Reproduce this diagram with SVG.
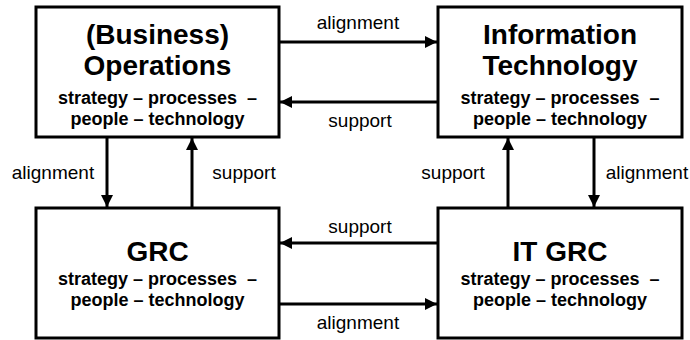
<svg xmlns="http://www.w3.org/2000/svg" width="690" height="340" viewBox="0 0 690 340">
<style>
.box{fill:#fff;stroke:#000;stroke-width:3}
.t{font-family:"Liberation Sans",Arial,sans-serif;font-weight:bold;font-size:28px;text-anchor:middle;fill:#000}
.s{font-family:"Liberation Sans",Arial,sans-serif;font-weight:bold;font-size:18px;text-anchor:middle;fill:#000}
.l{font-family:"Liberation Sans",Arial,sans-serif;font-size:19px;text-anchor:middle;fill:#000}
.c{stroke:#000;stroke-width:3;fill:none}
</style>
<defs>
<marker id="ah" viewBox="0 0 10 10" refX="10" refY="5" markerWidth="4" markerHeight="4" markerUnits="strokeWidth" orient="auto">
<path d="M0,0 L10,5 L0,10 Z" fill="#000"/>
</marker>
</defs>
<rect width="690" height="340" fill="#fff"/>
<g id="connectors">
<line class="c" x1="280" y1="42" x2="437" y2="42" marker-end="url(#ah)"/>
<line class="c" x1="437" y1="102" x2="280" y2="102" marker-end="url(#ah)"/>
<line class="c" x1="437" y1="243" x2="280" y2="243" marker-end="url(#ah)"/>
<line class="c" x1="280" y1="304" x2="437" y2="304" marker-end="url(#ah)"/>
<line class="c" x1="107" y1="138" x2="107" y2="207" marker-end="url(#ah)"/>
<line class="c" x1="192" y1="207" x2="192" y2="138" marker-end="url(#ah)"/>
<line class="c" x1="508" y1="207" x2="508" y2="138" marker-end="url(#ah)"/>
<line class="c" x1="594" y1="138" x2="594" y2="207" marker-end="url(#ah)"/>
<text class="l" x="358" y="29">alignment</text>
<text class="l" x="360" y="127">support</text>
<text class="l" x="360" y="233">support</text>
<text class="l" x="358" y="329">alignment</text>
<text class="l" x="53" y="179">alignment</text>
<text class="l" x="244" y="179">support</text>
<text class="l" x="453" y="179">support</text>
<text class="l" x="647" y="179">alignment</text>
</g>
<g id="ops">
<rect class="box" x="36" y="7" width="243" height="130"/>
<text class="t" x="157.5" y="44">(Business)</text>
<text class="t" x="157.5" y="75">Operations</text>
<text class="s" x="157.5" y="104">strategy – processes&#160; –</text>
<text class="s" x="157.5" y="125">people – technology</text>
</g>
<g id="it">
<rect class="box" x="438" y="7" width="244" height="130"/>
<text class="t" x="560" y="44">Information</text>
<text class="t" x="560" y="75">Technology</text>
<text class="s" x="560" y="104">strategy – processes&#160; –</text>
<text class="s" x="560" y="125">people – technology</text>
</g>
<g id="grc">
<rect class="box" x="36" y="208" width="243" height="130"/>
<text class="t" x="157.5" y="261">GRC</text>
<text class="s" x="157.5" y="285">strategy – processes&#160; –</text>
<text class="s" x="157.5" y="306">people – technology</text>
</g>
<g id="itgrc">
<rect class="box" x="438" y="208" width="244" height="130"/>
<text class="t" x="560" y="261">IT GRC</text>
<text class="s" x="560" y="285">strategy – processes&#160; –</text>
<text class="s" x="560" y="306">people – technology</text>
</g>
</svg>
